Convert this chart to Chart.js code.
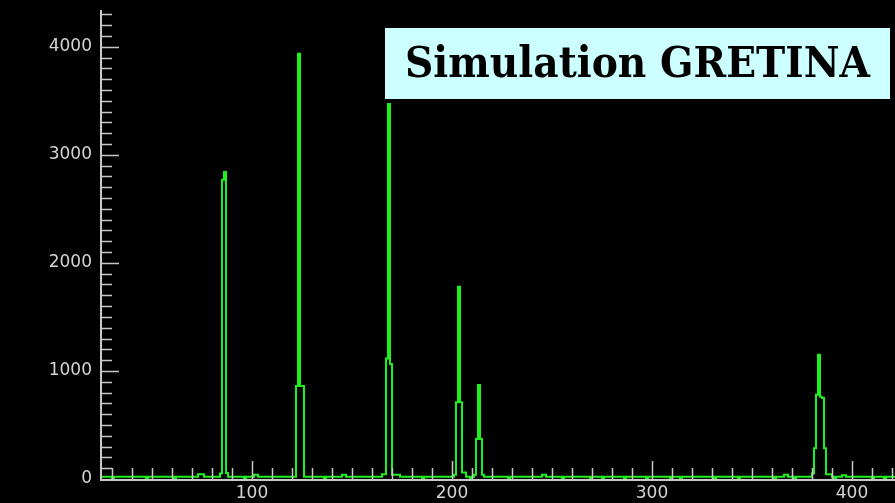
<!DOCTYPE html>
<html>
<head>
<meta charset="utf-8">
<script src="https://cdn.jsdelivr.net/npm/chart.js@4/dist/chart.umd.min.js"></script>
<style>
  html, body { margin: 0; padding: 0; background: #000; }
  #spectrum { display: block; background: #000; }
</style>
</head>
<body>
<canvas id="spectrum" width="895" height="503"></canvas>
<script>
// Gamma spectrum, counts per channel (stepped histogram, value starts at channel)
const bgChannels = [24, 30, 31, 47, 48, 61, 62, 73, 76, 96,
                    97, 101, 103, 136, 137, 145, 147, 185, 186, 207,
                    209, 210, 228, 229, 245, 247, 255, 256, 269, 270,
                    275, 276, 286, 287, 297, 298, 309, 310, 314, 315,
                    331, 332, 343, 344, 361, 362, 366, 368, 371, 372,
                    390, 391, 392, 395, 397, 410, 411, 416, 417, 422];
const bgCounts = [20, 5, 20, 5, 20, 5, 20, 45, 20, 5,
                  20, 40, 20, 5, 20, 40, 20, 5, 20, 20,
                  5, 20, 5, 20, 40, 20, 5, 20, 5, 20,
                  5, 20, 5, 20, 5, 20, 5, 20, 5, 20,
                  5, 20, 5, 20, 5, 20, 40, 20, 5, 20,
                  20, 5, 20, 35, 20, 5, 20, 5, 20, 20];

const peakChannels = [84, 85, 86, 87, 88,
                      122, 123, 124, 126,
                      165, 167, 168, 169, 170, 174,
                      201, 202, 203, 204, 205,
                      211, 212, 213, 214, 215, 216,
                      380, 381, 382, 383, 384, 385, 386, 387];
const peakCounts = [50, 2770, 2840, 55, 20,
                    860, 3935, 860, 20,
                    45, 1115, 3470, 1065, 40, 20,
                    40, 710, 1780, 710, 60,
                    40, 370, 870, 370, 40, 20,
                    50, 285, 780, 1150, 760, 750, 285, 45];

const xTicks = [100, 200, 300, 400];
const yTicks = [0, 1000, 2000, 3000, 4000];
const titleText = 'Simulation GRETINA';

const points = bgChannels.map((c, i) => ({ x: c, y: bgCounts[i] }))
    .concat(peakChannels.map((c, i) => ({ x: c, y: peakCounts[i] })))
    .sort((a, b) => a.x - b.x);

const AXIS = '#c8c8c8';

// inward tick marks + axis lines, like the old spectrum viewer
const axisTicks = {
    id: 'axisTicks',
    afterDatasetsDraw(chart) {
        const { ctx, chartArea: a, scales: { x, y } } = chart;
        ctx.save();
        ctx.strokeStyle = AXIS;
        ctx.lineWidth = 1.5;
        ctx.beginPath();
        for (let c = 30; c <= x.max; c += 10) {
            const px = Math.round(x.getPixelForValue(c)) + 0.5;
            const len = c % 100 === 0 ? 18 : 11;
            ctx.moveTo(px, a.bottom);
            ctx.lineTo(px, a.bottom - len);
        }
        for (let v = 100; v <= y.max; v += 100) {
            const py = Math.round(y.getPixelForValue(v)) + 0.5;
            const len = v % 1000 === 0 ? 19 : 12;
            ctx.moveTo(a.left, py);
            ctx.lineTo(a.left + len, py);
        }
        ctx.stroke();
        ctx.lineWidth = 2;
        ctx.beginPath();
        ctx.moveTo(a.left + 1, a.top);
        ctx.lineTo(a.left + 1, a.bottom + 1);
        ctx.lineTo(a.right, a.bottom + 1);
        ctx.stroke();
        ctx.restore();
    }
};

const titleBox = {
    id: 'titleBox',
    afterDraw(chart) {
        const ctx = chart.ctx;
        ctx.save();
        ctx.fillStyle = '#ccffff';
        ctx.fillRect(385, 28, 505, 71);
        ctx.font = 'bold 42px "DejaVu Serif"';
        ctx.fillStyle = '#000';
        ctx.textBaseline = 'alphabetic';
        const w = ctx.measureText(titleText).width;
        ctx.translate(405, 77);
        ctx.scale(465 / w, 1);
        ctx.fillText(titleText, 0, 0);
        ctx.restore();
    }
};

function noPad(s) {
    s.paddingTop = 0; s.paddingBottom = 0;
    s.paddingLeft = 0; s.paddingRight = 0;
}

new Chart(document.getElementById('spectrum').getContext('2d'), {
    type: 'line',
    data: {
        datasets: [{
            data: points,
            stepped: 'before',
            borderColor: '#1ef01e',
            borderWidth: 2,
            pointRadius: 0,
            fill: false
        }]
    },
    options: {
        responsive: false,
        animation: false,
        layout: { autoPadding: false, padding: { top: 10, right: 0, left: 0, bottom: 0 } },
        scales: {
            x: {
                type: 'linear',
                min: 24, max: 421.5,
                afterFit: s => { s.height = 24; noPad(s); },
                afterBuildTicks: s => { s.ticks = xTicks.map(v => ({ value: v })); },
                grid: { display: false, drawTicks: false },
                border: { display: false },
                ticks: { color: '#d4d4d4', padding: 4, maxRotation: 0, autoSkip: false,
                         callback: v => String(v),
                         font: { family: 'DejaVu Sans', size: 17 } }
            },
            y: {
                min: 0, max: 4340,
                afterFit: s => { s.width = 100; noPad(s); },
                afterBuildTicks: s => { s.ticks = yTicks.map(v => ({ value: v })); },
                grid: { display: false, drawTicks: false },
                border: { display: false },
                ticks: { color: '#d4d4d4', padding: 8, autoSkip: false,
                         callback: v => String(v),
                         font: { family: 'DejaVu Sans', size: 17 } }
            }
        },
        plugins: { legend: { display: false }, tooltip: { enabled: false } }
    },
    plugins: [axisTicks, titleBox]
});
</script>
</body>
</html>
